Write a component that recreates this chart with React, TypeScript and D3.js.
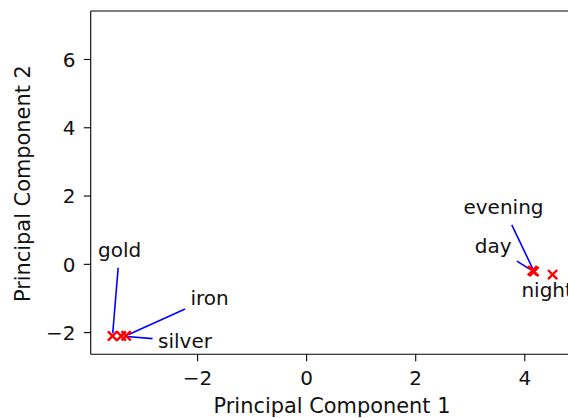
import React, { useEffect, useRef } from "react";
import * as d3 from "d3";

const words = ["gold", "silver", "iron", "day", "evening", "night"];
const pc1 = [-3.56, -3.4, -3.31, 4.14, 4.17, 4.51];
const pc2 = [-2.1, -2.1, -2.09, -0.19, -0.21, -0.3];
// annotation text anchor (center x, baseline y) in data coordinates
const textPc1 = [-3.43, -2.23, -1.78, 3.42, 3.61, 4.41];
const textPc2 = [0.21, -2.46, -1.19, 0.32, 1.46, -0.97];
const xTicks = [-2, 0, 2, 4];
const yTicks = [-2, 0, 2, 4, 6];
const xDomain: [number, number] = [-3.96, 4.91];
const yDomain: [number, number] = [-2.635, 7.42];

const W = 568;
const H = 418;
const FONT = "DejaVu Sans";
const FS = 20;
const FS_LABEL = 20.9;

export default function App() {
  const ref = useRef<SVGSVGElement | null>(null);

  useEffect(() => {
    const svg = d3.select(ref.current);
    svg.selectAll("*").remove();
    const left = 90.7, right = 574.4, top = 11, bottom = 354.3;
    const x = d3.scaleLinear().domain(xDomain).range([left, right]);
    const y = d3.scaleLinear().domain(yDomain).range([bottom, top]);

    svg.append("rect").attr("width", W).attr("height", H).attr("fill", "white");

    const ann = svg.append("g");
    const lines = svg.append("g");
    words.forEach((w, i) => {
      const t = ann
        .append("text")
        .attr("x", x(textPc1[i]))
        .attr("y", y(textPc2[i]))
        .attr("text-anchor", "middle")
        .attr("font-family", FONT)
        .attr("font-size", FS)
        .attr("fill", "#111")
        .text(w);
      const bb = (t.node() as SVGTextElement).getBBox();
      const pad = 2.8;
      const x0 = bb.x - pad, x1 = bb.x + bb.width + pad;
      const y0 = bb.y - pad, y1 = bb.y + bb.height + pad;
      const cx = (x0 + x1) / 2, cy = (y0 + y1) / 2;
      const px = x(pc1[i]), py = y(pc2[i]);
      const dx = px - cx, dy = py - cy;
      const len = Math.hypot(dx, dy);
      const ux = dx / len, uy = dy / len;
      const tx = ux !== 0 ? (ux > 0 ? (x1 - cx) / ux : (x0 - cx) / ux) : Infinity;
      const ty = uy !== 0 ? (uy > 0 ? (y1 - cy) / uy : (y0 - cy) / uy) : Infinity;
      const tExit = Math.min(tx, ty) + 2.8;
      const tEnd = len - 2.8;
      if (tEnd > tExit) {
        lines
          .append("line")
          .attr("x1", cx + ux * tExit)
          .attr("y1", cy + uy * tExit)
          .attr("x2", cx + ux * tEnd)
          .attr("y2", cy + uy * tEnd)
          .attr("stroke", "#0000ff")
          .attr("stroke-width", 1.6);
      }
    });

    const mk = svg.append("g");
    const s = 4.6;
    pc1.forEach((v, i) => {
      const px = x(v), py = y(pc2[i]);
      mk.append("path")
        .attr("d", `M${px - s},${py - s}L${px + s},${py + s}M${px - s},${py + s}L${px + s},${py - s}`)
        .attr("stroke", "#ff0000")
        .attr("stroke-width", 2.4)
        .attr("fill", "none");
    });

    const sp = svg.append("g").attr("stroke", "#000").attr("stroke-width", 1.1);
    sp.append("line").attr("x1", left).attr("x2", left).attr("y1", top).attr("y2", bottom);
    sp.append("line").attr("x1", left).attr("x2", right).attr("y1", bottom).attr("y2", bottom);
    sp.append("line").attr("x1", left).attr("x2", right).attr("y1", top).attr("y2", top);
    sp.append("line").attr("x1", right).attr("x2", right).attr("y1", top).attr("y2", bottom);

    const xt = svg.append("g");
    xTicks.forEach((v) => {
      xt.append("line").attr("x1", x(v)).attr("x2", x(v)).attr("y1", bottom).attr("y2", bottom + 6.9)
        .attr("stroke", "#000").attr("stroke-width", 1.1);
      xt.append("text").attr("x", x(v)).attr("y", bottom + 30.3).attr("text-anchor", "middle")
        .attr("font-family", FONT).attr("font-size", FS).attr("fill", "#111")
        .text(String(v).replace("-", "\u2212"));
    });
    const yt = svg.append("g");
    yTicks.forEach((v) => {
      yt.append("line").attr("x1", left - 6.9).attr("x2", left).attr("y1", y(v)).attr("y2", y(v))
        .attr("stroke", "#000").attr("stroke-width", 1.1);
      yt.append("text").attr("x", left - 15.2).attr("y", y(v)).attr("dy", "0.365em").attr("text-anchor", "end")
        .attr("font-family", FONT).attr("font-size", FS).attr("fill", "#111")
        .text(String(v).replace("-", "\u2212"));
    });

    svg.append("text").attr("x", 332).attr("y", 413.2).attr("text-anchor", "middle")
      .attr("font-family", FONT).attr("font-size", FS_LABEL).attr("fill", "#111").text("Principal Component 1");
    svg.append("text").attr("transform", `translate(30,${(top + bottom) / 2 + 1}) rotate(-90)`)
      .attr("text-anchor", "middle").attr("font-family", FONT).attr("font-size", FS_LABEL).attr("fill", "#111")
      .text("Principal Component 2");
  }, []);

  return (
    <svg
      ref={ref}
      width={W}
      height={H}
      style={{ position: "absolute", left: 0, top: 0, display: "block" }}
    />
  );
}
